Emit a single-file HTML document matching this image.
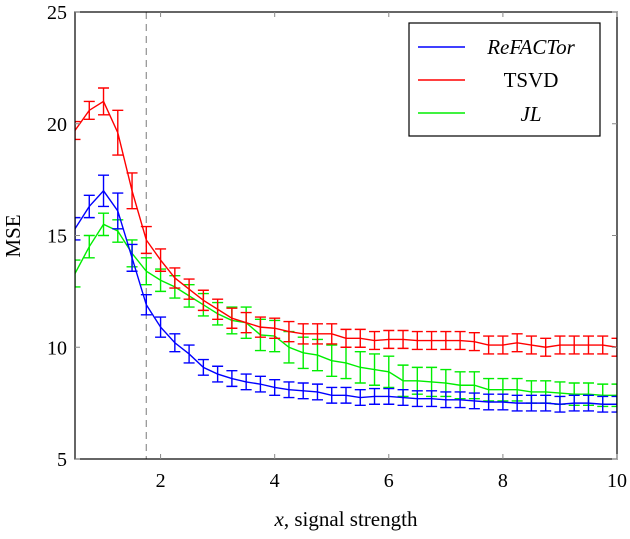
<!DOCTYPE html>
<html><head><meta charset="utf-8"><style>
body{margin:0;background:#fff}
svg text{font-family:"Liberation Serif",serif;fill:#000}
</style></head><body>
<svg id="chart" width="630" height="534" xmlns="http://www.w3.org/2000/svg">
<g id="marks"></g>
<g id="axes"></g>
</svg>
<script>
const xs = [0.5,0.75,1,1.25,1.5,1.75,2,2.25,2.5,2.75,3,3.25,3.5,3.75,4,4.25,4.5,4.75,5,5.25,5.5,5.75,6,6.25,6.5,6.75,7,7.25,7.5,7.75,8,8.25,8.5,8.75,9,9.25,9.5,9.75,10];
const refactor = [15.3,16.3,17.0,16.1,14.0,11.9,10.9,10.2,9.7,9.1,8.8,8.6,8.45,8.35,8.2,8.1,8.05,8.0,7.85,7.85,7.75,7.8,7.8,7.75,7.7,7.7,7.65,7.65,7.6,7.55,7.55,7.5,7.5,7.5,7.45,7.5,7.5,7.45,7.45];
const refactorErr = [0.5,0.5,0.7,0.8,0.6,0.45,0.45,0.4,0.4,0.35,0.35,0.35,0.35,0.35,0.35,0.35,0.35,0.35,0.35,0.35,0.35,0.35,0.35,0.35,0.35,0.35,0.35,0.35,0.35,0.35,0.35,0.35,0.35,0.35,0.35,0.35,0.35,0.35,0.35];
const tsvd = [19.7,20.6,21.0,19.6,17.0,14.8,13.9,13.1,12.6,12.1,11.7,11.3,11.1,10.9,10.85,10.7,10.6,10.6,10.6,10.4,10.4,10.3,10.35,10.35,10.3,10.3,10.3,10.3,10.25,10.1,10.1,10.2,10.1,10.0,10.1,10.1,10.1,10.1,10.0];
const tsvdErr = [0.4,0.4,0.6,1.0,0.8,0.6,0.5,0.45,0.45,0.45,0.45,0.45,0.45,0.45,0.45,0.45,0.45,0.45,0.45,0.4,0.4,0.4,0.4,0.4,0.4,0.4,0.4,0.4,0.4,0.4,0.4,0.4,0.4,0.4,0.4,0.4,0.4,0.4,0.4];
const jl = [13.3,14.5,15.5,15.2,14.2,13.4,13.0,12.7,12.3,11.9,11.5,11.2,11.1,10.55,10.5,10.0,9.75,9.65,9.4,9.3,9.1,9.0,8.9,8.5,8.5,8.45,8.4,8.3,8.3,8.1,8.1,8.1,8.0,8.0,7.95,7.9,7.9,7.85,7.85];
const jlErr = [0.6,0.5,0.5,0.5,0.6,0.6,0.5,0.5,0.5,0.5,0.5,0.6,0.7,0.7,0.7,0.7,0.7,0.7,0.7,0.7,0.7,0.7,0.7,0.7,0.6,0.65,0.6,0.6,0.6,0.5,0.5,0.5,0.5,0.5,0.5,0.5,0.5,0.5,0.5];
const xTicks = [2,4,6,8,10];
const yTicks = [5,10,15,20,25];

const L=75,R=617,T=12,B=459;
const sx=v=>L+(v-0.5)/(10-0.5)*(R-L);
const sy=v=>B-(v-5)/20*(B-T);
const NS='http://www.w3.org/2000/svg';
const marks=document.getElementById('marks'), axes=document.getElementById('axes');
function mk(tag,attrs,parent){const e=document.createElementNS(NS,tag);for(const k in attrs)e.setAttribute(k,attrs[k]);parent.appendChild(e);return e;}

const clip=mk('clipPath',{id:'pc'},marks);
mk('rect',{x:L,y:T,width:R-L,height:B-T},clip);
const plot=mk('g',{'clip-path':'url(#pc)'},marks);

const dash=mk('line',{x1:sx(1.75),x2:sx(1.75),y1:T,y2:B,stroke:'#999','stroke-width':1.3,'stroke-dasharray':'7,5'},plot);



function series(vals,errs,color,name){
  const g=mk('g',{},plot);
  
  
  mk('polyline',{points:vals.map((v,i)=>sx(xs[i])+','+sy(v)).join(' '),fill:'none',stroke:color,'stroke-width':1.4},g);
  vals.forEach((v,i)=>{
    const x=sx(xs[i]),y1=sy(v+errs[i]),y2=sy(v-errs[i]);
    const eb=mk('path',{d:`M${x},${y1}V${y2}M${x-5.5},${y1}H${x+5.5}M${x-5.5},${y2}H${x+5.5}`,stroke:color,'stroke-width':1.4,fill:'none'},g);
    
    
  });
}
series(jl,jlErr,'#00ee00','jl');
series(tsvd,tsvdErr,'#ff0000','tsvd');
series(refactor,refactorErr,'#0000ff','refactor');

mk('rect',{x:L,y:T,width:R-L,height:B-T,fill:'none',stroke:'#000','stroke-width':1.2},axes);
xTicks.forEach(t=>{
  const x=sx(t);
  mk('path',{d:`M${x},${B}v-5M${x},${T}v5`,stroke:'#888','stroke-width':1},axes);
  const tx=mk('text',{x:x,y:487,'text-anchor':'middle','font-size':20},axes);tx.textContent=t;
  
  
});
yTicks.forEach(t=>{
  const y=sy(t);
  mk('path',{d:`M${L},${y}h5M${R},${y}h-5`,stroke:'#888','stroke-width':1},axes);
  const tx=mk('text',{x:67,y:y+7,'text-anchor':'end','font-size':20},axes);tx.textContent=t;
  
  
});
</script>
<svg width="630" height="534" style="position:absolute;left:0;top:0" xmlns="http://www.w3.org/2000/svg">
<text x="346" y="526" text-anchor="middle" font-size="21"><tspan font-style="italic">x</tspan>, signal strength</text>
<text transform="translate(20,236) rotate(-90)" text-anchor="middle" font-size="21">MSE</text>
<g>
<rect x="409" y="23" width="191" height="113" fill="#fff" stroke="#000" stroke-width="1.2"/>
<line x1="418" x2="465" y1="47" y2="47" stroke="#0000ff" stroke-width="1.4"/>
<line x1="418" x2="465" y1="80" y2="80" stroke="#ff0000" stroke-width="1.4"/>
<line x1="418" x2="465" y1="113" y2="113" stroke="#00ee00" stroke-width="1.4"/>
<text x="531" y="54" text-anchor="middle" font-size="21" font-style="italic">ReFACTor</text>
<text x="531" y="87" text-anchor="middle" font-size="21">TSVD</text>
<text x="531" y="121" text-anchor="middle" font-size="21" font-style="italic">JL</text>
</g>
</svg>
</body></html>
